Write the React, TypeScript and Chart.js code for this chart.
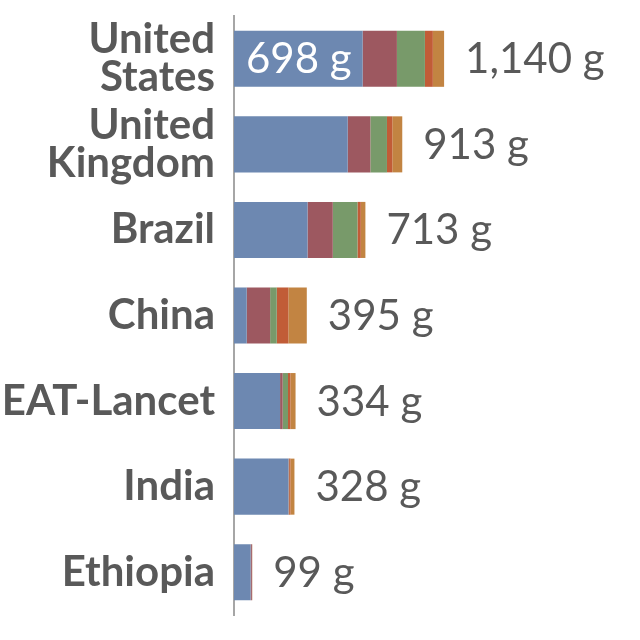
import React, { useEffect, useRef } from 'react';
import { Chart, registerables } from 'chart.js';

Chart.register(...registerables);

const countries = [['United', 'States'], ['United', 'Kingdom'], 'Brazil', 'China', 'EAT-Lancet', 'India', 'Ethiopia'];
const dairy = [698, 617, 399, 69, 250, 295, 90];
const redMeat = [186, 123, 137, 127, 14, 2, 7];
const poultry = [152, 90, 134, 36, 29, 2, 1];
const eggs = [43, 29, 18, 63, 13, 7, 1];
const fish = [61, 54, 25, 100, 28, 22, 0];

const textColor = '#595959';
const fontFamily = 'Lato, "Open Sans", sans-serif';

const fmt = (v: number) => `${v.toLocaleString('en-US')} g`;

// totals after each bar, and the dairy figure inside the first one
const labelPlugin = {
    id: 'barLabels',
    afterDatasetsDraw(chart: Chart) {
        const { ctx } = chart;
        const last = chart.getDatasetMeta(chart.data.datasets.length - 1);
        const first = chart.getDatasetMeta(0);
        ctx.save();
        ctx.font = `42px ${fontFamily}`;
        ctx.textBaseline = 'middle';
        ctx.textAlign = 'left';
        last.data.forEach((bar: any, i: number) => {
            const total = chart.data.datasets.reduce((s, d) => s + (d.data[i] as number), 0);
            ctx.fillStyle = textColor;
            ctx.fillText(fmt(total), bar.x + 21, bar.y + 1);
        });
        const b0: any = first.data[0];
        ctx.fillStyle = '#ffffff';
        ctx.fillText(fmt(dairy[0]), b0.base + 12, b0.y + 1);
        ctx.restore();
    },
};

const App = () => {
    const chartRef = useRef<HTMLCanvasElement | null>(null);
    const chartInstanceRef = useRef<Chart | null>(null);

    useEffect(() => {
        const ctx = chartRef.current?.getContext('2d');
        if (ctx) {
            const ds = (label: string, data: number[], color: string) => ({
                label,
                data,
                backgroundColor: color,
                borderWidth: 0,
                barPercentage: 0.655,
                categoryPercentage: 1,
            });
            chartInstanceRef.current = new Chart(ctx, {
                type: 'bar',
                data: {
                    labels: countries,
                    datasets: [
                        ds('Dairy', dairy, '#6d88b1'),
                        ds('Red meat', redMeat, '#9d5860'),
                        ds('Poultry', poultry, '#789a6a'),
                        ds('Eggs', eggs, '#c15c37'),
                        ds('Fish', fish, '#c28442'),
                    ],
                },
                options: {
                    indexAxis: 'y',
                    responsive: false,
                    animation: false,
                    layout: { padding: { top: 16, bottom: 25, left: 0, right: 0 } },
                    plugins: { legend: { display: false }, tooltip: { enabled: false } },
                    scales: {
                        x: { stacked: true, display: false, min: 0, max: 2203 },
                        y: {
                            stacked: true,
                            grid: { display: false },
                            border: { display: true, color: '#a6a6a6', width: 2 },
                            ticks: {
                                color: textColor,
                                padding: 11,
                                font: { family: fontFamily, size: 42, weight: 'bold', lineHeight: 0.9 },
                            },
                            afterFit: (scale: any) => {
                                scale.width = 234;
                                scale.paddingTop = 0;
                                scale.paddingBottom = 0;
                            },
                        },
                    },
                },
                plugins: [labelPlugin],
            });
        }
        return () => {
            chartInstanceRef.current?.destroy();
        };
    }, []);

    return (
        <div style={{ position: 'absolute', left: 0, top: 0, width: 640, height: 640, background: '#fff' }}>
            <canvas ref={chartRef} width={640} height={640} style={{ width: 640, height: 640 }} />
        </div>
    );
};

export default App;
